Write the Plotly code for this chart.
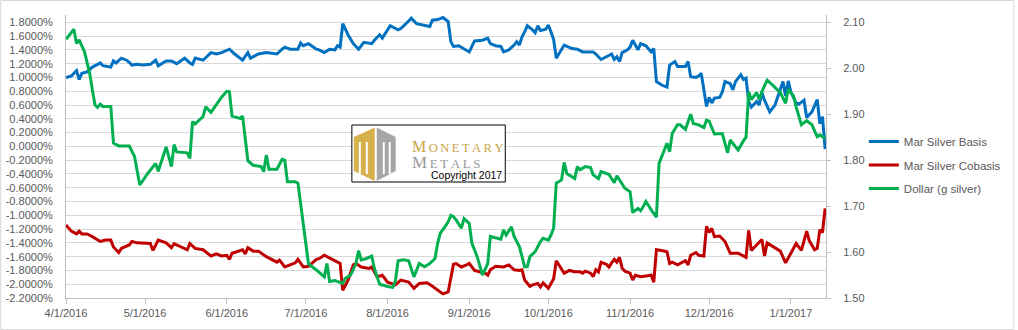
import plotly.graph_objects as go

# ---------------------------------------------------------------- data
BASIS_DATES = [
    "2016-04-01", "2016-04-03", "2016-04-05", "2016-04-06", "2016-04-07", "2016-04-09", "2016-04-11", "2016-04-14", "2016-04-15",
    "2016-04-18", "2016-04-19", "2016-04-20", "2016-04-22", "2016-04-24", "2016-04-25", "2016-04-26", "2016-04-28", "2016-04-30",
    "2016-05-03", "2016-05-05", "2016-05-06", "2016-05-09", "2016-05-11", "2016-05-13", "2016-05-16", "2016-05-18", "2016-05-19",
    "2016-05-20", "2016-05-23", "2016-05-26", "2016-05-28", "2016-05-30",
    "2016-06-02", "2016-06-04", "2016-06-07", "2016-06-09", "2016-06-10", "2016-06-13", "2016-06-16", "2016-06-20", "2016-06-22",
    "2016-06-23", "2016-06-25", "2016-06-28", "2016-06-29", "2016-06-30",
    "2016-07-02", "2016-07-05", "2016-07-06", "2016-07-08", "2016-07-10", "2016-07-12", "2016-07-13", "2016-07-14", "2016-07-15",
    "2016-07-17", "2016-07-19", "2016-07-21", "2016-07-23", "2016-07-26", "2016-07-27", "2016-07-29", "2016-07-30",
    "2016-08-02", "2016-08-05", "2016-08-06", "2016-08-08", "2016-08-10", "2016-08-12", "2016-08-15", "2016-08-17", "2016-08-18",
    "2016-08-20", "2016-08-22", "2016-08-24", "2016-08-25", "2016-08-26", "2016-08-28", "2016-08-30",
    "2016-09-01", "2016-09-03", "2016-09-06", "2016-09-08", "2016-09-09", "2016-09-11", "2016-09-13", "2016-09-14", "2016-09-16",
    "2016-09-18", "2016-09-19", "2016-09-20", "2016-09-21", "2016-09-22", "2016-09-23", "2016-09-25", "2016-09-26", "2016-09-27",
    "2016-09-28", "2016-09-30",
    "2016-10-01", "2016-10-02", "2016-10-03", "2016-10-04", "2016-10-05", "2016-10-07", "2016-10-10", "2016-10-12", "2016-10-14",
    "2016-10-18", "2016-10-19", "2016-10-21", "2016-10-23", "2016-10-25", "2016-10-26", "2016-10-27", "2016-10-28", "2016-10-29",
    "2016-10-31",
    "2016-11-01", "2016-11-02", "2016-11-04", "2016-11-05", "2016-11-07", "2016-11-09", "2016-11-10", "2016-11-11", "2016-11-13",
    "2016-11-15", "2016-11-16", "2016-11-18", "2016-11-19", "2016-11-22", "2016-11-23", "2016-11-24", "2016-11-26", "2016-11-27",
    "2016-11-28", "2016-11-30",
    "2016-12-01", "2016-12-02", "2016-12-03", "2016-12-05", "2016-12-06", "2016-12-07", "2016-12-09", "2016-12-10", "2016-12-11",
    "2016-12-13", "2016-12-14", "2016-12-15", "2016-12-16", "2016-12-17", "2016-12-19", "2016-12-20", "2016-12-21", "2016-12-22",
    "2016-12-24", "2016-12-26", "2016-12-27", "2016-12-29", "2016-12-30", "2016-12-31",
    "2017-01-01", "2017-01-03", "2017-01-04", "2017-01-06", "2017-01-07", "2017-01-09", "2017-01-11", "2017-01-12", "2017-01-13",
    "2017-01-14",
]
BASIS_PCT = [
    1.00, 1.02, 1.10, 0.97, 1.06, 1.08, 1.15, 1.21, 1.17, 1.15, 1.24, 1.21, 1.28, 1.25, 1.22, 1.18, 1.19, 1.18,
    1.19, 1.25, 1.17, 1.24, 1.24, 1.20, 1.28, 1.21, 1.19, 1.28, 1.25, 1.36, 1.34, 1.36,
    1.41, 1.34, 1.25, 1.36, 1.28, 1.34, 1.36, 1.34, 1.41, 1.44, 1.41, 1.41, 1.50, 1.46,
    1.49, 1.41, 1.40, 1.36, 1.41, 1.40, 1.46, 1.44, 1.78, 1.62, 1.49, 1.41, 1.51, 1.49, 1.54, 1.62, 1.57,
    1.75, 1.69, 1.71, 1.78, 1.86, 1.78, 1.76, 1.74, 1.83, 1.84, 1.87, 1.81, 1.52, 1.45, 1.46, 1.42,
    1.37, 1.53, 1.54, 1.57, 1.49, 1.46, 1.45, 1.37, 1.40, 1.47, 1.52, 1.47, 1.59, 1.66, 1.75, 1.69, 1.65, 1.75, 1.68, 1.70,
    1.76, 1.66, 1.55, 1.28, 1.35, 1.47, 1.42, 1.41, 1.37, 1.37, 1.34, 1.26, 1.30, 1.34, 1.26, 1.30, 1.23, 1.36, 1.40,
    1.44, 1.54, 1.40, 1.49, 1.46, 1.37, 1.42, 0.94, 0.89, 0.86, 1.18, 1.23, 1.16, 1.16, 1.23, 1.01, 1.00, 1.02, 1.06, 0.58,
    0.71, 0.63, 0.70, 0.71, 0.79, 0.94, 0.91, 0.82, 0.94, 1.04, 0.97, 0.99, 0.65, 0.57, 0.65, 0.60, 0.78, 0.67, 0.50, 0.60,
    0.71, 0.94, 0.73, 0.95,
    0.79, 0.63, 0.61, 0.67, 0.42, 0.50, 0.68, 0.33, 0.43, -0.04,
]

COBASIS_DATES = [
    "2016-04-01", "2016-04-03", "2016-04-05", "2016-04-06", "2016-04-07", "2016-04-09", "2016-04-11", "2016-04-14", "2016-04-16",
    "2016-04-18", "2016-04-19", "2016-04-21", "2016-04-22", "2016-04-25", "2016-04-26", "2016-04-28",
    "2016-05-03", "2016-05-04", "2016-05-06", "2016-05-09", "2016-05-11", "2016-05-12", "2016-05-17", "2016-05-18", "2016-05-20",
    "2016-05-23", "2016-05-26", "2016-05-28", "2016-05-30",
    "2016-06-01", "2016-06-02", "2016-06-03", "2016-06-07", "2016-06-08", "2016-06-09", "2016-06-11", "2016-06-13", "2016-06-16",
    "2016-06-20", "2016-06-21", "2016-06-23", "2016-06-27", "2016-06-28", "2016-06-30",
    "2016-07-02", "2016-07-05", "2016-07-06", "2016-07-08", "2016-07-11", "2016-07-13", "2016-07-14", "2016-07-15", "2016-07-17",
    "2016-07-19", "2016-07-20", "2016-07-22", "2016-07-25", "2016-07-26", "2016-07-28", "2016-07-30",
    "2016-08-01", "2016-08-04", "2016-08-06", "2016-08-09", "2016-08-11", "2016-08-13", "2016-08-16", "2016-08-18", "2016-08-20",
    "2016-08-22", "2016-08-24", "2016-08-25", "2016-08-26", "2016-08-27", "2016-08-29", "2016-08-31",
    "2016-09-01", "2016-09-03", "2016-09-04", "2016-09-07", "2016-09-08", "2016-09-09", "2016-09-11", "2016-09-14", "2016-09-16",
    "2016-09-18", "2016-09-20", "2016-09-21", "2016-09-22", "2016-09-24", "2016-09-25", "2016-09-27", "2016-09-28", "2016-09-29",
    "2016-10-01", "2016-10-02", "2016-10-03", "2016-10-04", "2016-10-06", "2016-10-07", "2016-10-09", "2016-10-11", "2016-10-13",
    "2016-10-14", "2016-10-15", "2016-10-17", "2016-10-18", "2016-10-19", "2016-10-20", "2016-10-21", "2016-10-23", "2016-10-24",
    "2016-10-25", "2016-10-26", "2016-10-27", "2016-10-28", "2016-10-29", "2016-10-30",
    "2016-11-01", "2016-11-02", "2016-11-03", "2016-11-05", "2016-11-07", "2016-11-09", "2016-11-10", "2016-11-11", "2016-11-13",
    "2016-11-15", "2016-11-16", "2016-11-17", "2016-11-19", "2016-11-20", "2016-11-22", "2016-11-23", "2016-11-24", "2016-11-26",
    "2016-11-27", "2016-11-29", "2016-11-30",
    "2016-12-01", "2016-12-02", "2016-12-03", "2016-12-05", "2016-12-07", "2016-12-09", "2016-12-12", "2016-12-15", "2016-12-16",
    "2016-12-17", "2016-12-21", "2016-12-22", "2016-12-23", "2016-12-26", "2016-12-28", "2016-12-30",
    "2017-01-01", "2017-01-03", "2017-01-05", "2017-01-07", "2017-01-08", "2017-01-10", "2017-01-11", "2017-01-12", "2017-01-13",
    "2017-01-14",
]
COBASIS_PCT = [
    -1.14, -1.23, -1.27, -1.23, -1.27, -1.27, -1.31, -1.38, -1.36, -1.36, -1.46, -1.54, -1.48, -1.43, -1.38, -1.40,
    -1.41, -1.51, -1.36, -1.40, -1.47, -1.41, -1.50, -1.41, -1.48, -1.50, -1.59, -1.56, -1.59,
    -1.58, -1.64, -1.55, -1.50, -1.56, -1.47, -1.52, -1.52, -1.60, -1.68, -1.65, -1.75, -1.69, -1.64, -1.75,
    -1.74, -1.64, -1.63, -1.58, -1.64, -1.68, -1.70, -2.09, -1.94, -1.72, -1.70, -1.75, -1.77, -1.75, -1.89, -1.87,
    -1.97, -2.01, -1.94, -1.97, -2.06, -1.99, -1.98, -2.03, -2.09, -2.14, -2.11, -1.90, -1.71, -1.70, -1.75, -1.72,
    -1.70, -1.80, -1.81, -1.84, -1.87, -1.79, -1.74, -1.75, -1.72, -1.79, -1.80, -1.79, -1.94, -2.03, -2.01, -1.99, -2.04, -1.98,
    -2.06, -1.99, -1.92, -1.66, -1.77, -1.84, -1.80, -1.82, -1.82, -1.84, -1.81, -1.84, -1.89, -1.79, -1.82, -1.68, -1.71, -1.75,
    -1.69, -1.64, -1.68, -1.61, -1.77, -1.81,
    -1.84, -1.94, -1.87, -1.89, -1.88, -1.87, -1.97, -1.50, -1.51, -1.53, -1.70, -1.68, -1.72, -1.70, -1.66, -1.72, -1.58, -1.54,
    -1.58, -1.59, -1.16,
    -1.25, -1.19, -1.31, -1.30, -1.38, -1.55, -1.55, -1.61, -1.22, -1.51, -1.35, -1.59, -1.40, -1.47, -1.52, -1.69,
    -1.55, -1.41, -1.51, -1.23, -1.37, -1.50, -1.48, -1.21, -1.25, -0.90,
]

DOLLAR_DATES = [
    "2016-04-01", "2016-04-04", "2016-04-05", "2016-04-06", "2016-04-08", "2016-04-10", "2016-04-11", "2016-04-12", "2016-04-13",
    "2016-04-14", "2016-04-15", "2016-04-18", "2016-04-19", "2016-04-21", "2016-04-25", "2016-04-27", "2016-04-29",
    "2016-05-02", "2016-05-05", "2016-05-06", "2016-05-09", "2016-05-11", "2016-05-12", "2016-05-13", "2016-05-17", "2016-05-18",
    "2016-05-19", "2016-05-20", "2016-05-23", "2016-05-24", "2016-05-26", "2016-05-28", "2016-05-30",
    "2016-06-01", "2016-06-02", "2016-06-03", "2016-06-06", "2016-06-07", "2016-06-09", "2016-06-11", "2016-06-14", "2016-06-15",
    "2016-06-16", "2016-06-17", "2016-06-20", "2016-06-22", "2016-06-23", "2016-06-24", "2016-06-27", "2016-06-28", "2016-06-30",
    "2016-07-02", "2016-07-05", "2016-07-07", "2016-07-08", "2016-07-09", "2016-07-10", "2016-07-12", "2016-07-15", "2016-07-16",
    "2016-07-18", "2016-07-20", "2016-07-21", "2016-07-22", "2016-07-24", "2016-07-26", "2016-07-27", "2016-07-29", "2016-07-30",
    "2016-08-01", "2016-08-03", "2016-08-04", "2016-08-05", "2016-08-07", "2016-08-09", "2016-08-11", "2016-08-13", "2016-08-15",
    "2016-08-17", "2016-08-19", "2016-08-20", "2016-08-21", "2016-08-23", "2016-08-24", "2016-08-25", "2016-08-26", "2016-08-27",
    "2016-08-29", "2016-08-30",
    "2016-09-01", "2016-09-02", "2016-09-04", "2016-09-06", "2016-09-08", "2016-09-09", "2016-09-12", "2016-09-13", "2016-09-14",
    "2016-09-15", "2016-09-17", "2016-09-18", "2016-09-20", "2016-09-22", "2016-09-23", "2016-09-24", "2016-09-26", "2016-09-28",
    "2016-09-29",
    "2016-10-01", "2016-10-02", "2016-10-03", "2016-10-04", "2016-10-06", "2016-10-07", "2016-10-08", "2016-10-11", "2016-10-12",
    "2016-10-13", "2016-10-15", "2016-10-17", "2016-10-18", "2016-10-20", "2016-10-21", "2016-10-23", "2016-10-24", "2016-10-26",
    "2016-10-27", "2016-10-29", "2016-10-30",
    "2016-11-01", "2016-11-02", "2016-11-04", "2016-11-05", "2016-11-06", "2016-11-07", "2016-11-09", "2016-11-11", "2016-11-12",
    "2016-11-13", "2016-11-15", "2016-11-16", "2016-11-17", "2016-11-19", "2016-11-20", "2016-11-22", "2016-11-24", "2016-11-25",
    "2016-11-27", "2016-11-29", "2016-11-30",
    "2016-12-01", "2016-12-03", "2016-12-06", "2016-12-08", "2016-12-09", "2016-12-12", "2016-12-14", "2016-12-15", "2016-12-16",
    "2016-12-17", "2016-12-19", "2016-12-20", "2016-12-21", "2016-12-23", "2016-12-25", "2016-12-28", "2016-12-30", "2016-12-31",
    "2017-01-02", "2017-01-03", "2017-01-05", "2017-01-07", "2017-01-09", "2017-01-11", "2017-01-12", "2017-01-14",
]
DOLLAR_G = [
    2.063, 2.085, 2.054, 2.062, 2.036, 1.989, 1.953, 1.920, 1.915, 1.922, 1.917, 1.917, 1.837, 1.831, 1.831, 1.808, 1.746,
    1.771, 1.793, 1.776, 1.829, 1.786, 1.834, 1.818, 1.816, 1.804, 1.884, 1.879, 1.895, 1.916, 1.904, 1.920, 1.937,
    1.950, 1.949, 1.896, 1.891, 1.896, 1.799, 1.789, 1.786, 1.775, 1.811, 1.780, 1.780, 1.802, 1.800, 1.753, 1.753, 1.750, 1.662,
    1.574, 1.561, 1.550, 1.546, 1.575, 1.536, 1.538, 1.532, 1.543, 1.550, 1.575, 1.603, 1.583, 1.586, 1.591, 1.564, 1.530, 1.528,
    1.525, 1.523, 1.538, 1.581, 1.583, 1.581, 1.546, 1.575, 1.568, 1.575, 1.586, 1.619, 1.641, 1.657, 1.666, 1.680, 1.677, 1.670,
    1.652, 1.673,
    1.662, 1.619, 1.590, 1.550, 1.575, 1.634, 1.630, 1.628, 1.648, 1.637, 1.655, 1.634, 1.612, 1.568, 1.568, 1.590, 1.601, 1.623,
    1.630,
    1.626, 1.637, 1.652, 1.750, 1.757, 1.795, 1.771, 1.760, 1.786, 1.779, 1.786, 1.784, 1.768, 1.760, 1.775, 1.771, 1.769, 1.751,
    1.766, 1.748, 1.739,
    1.731, 1.686, 1.695, 1.690, 1.699, 1.710, 1.692, 1.676, 1.793, 1.808, 1.837, 1.818, 1.858, 1.877, 1.877, 1.867, 1.900, 1.880,
    1.877, 1.871, 1.887,
    1.885, 1.857, 1.858, 1.816, 1.844, 1.822, 1.842, 1.850, 1.949, 1.932, 1.947, 1.932, 1.949, 1.974, 1.964, 1.947, 1.924, 1.954,
    1.940, 1.916, 1.877, 1.886, 1.877, 1.851, 1.855, 1.847,
]

MONTH_TICKS = ["2016-04-01", "2016-05-01", "2016-06-01", "2016-07-01", "2016-08-01",
               "2016-09-01", "2016-10-01", "2016-11-01", "2016-12-01", "2017-01-01"]
MONTH_LABELS = ["4/1/2016", "5/1/2016", "6/1/2016", "7/1/2016", "8/1/2016",
                "9/1/2016", "10/1/2016", "11/1/2016", "12/1/2016", "1/1/2017"]
PCT_TICKS = [v / 10 for v in range(-22, 19, 2)]
PCT_LABELS = [f"{v:.4f}%" for v in PCT_TICKS]
DOLLAR_TICKS = [1.5, 1.6, 1.7, 1.8, 1.9, 2.0, 2.1]
DOLLAR_LABELS = [f"{v:.2f}" for v in DOLLAR_TICKS]

# ---------------------------------------------------------------- layout helpers
W, H = 1018, 330
PLOT_LEFT, PLOT_RIGHT, PLOT_TOP, PLOT_BOTTOM = 66, 829, 15, 298


def px(x):
    return (x - PLOT_LEFT) / (PLOT_RIGHT - PLOT_LEFT)


def py(y):
    return (PLOT_BOTTOM - y) / (PLOT_BOTTOM - PLOT_TOP)


FONT = "Liberation Sans"
AXIS_TEXT = "#595959"
AXIS_LINE = "#BFBFBF"
THIN = "\u2009"

fig = go.Figure()
fig.add_trace(go.Scatter(x=BASIS_DATES, y=BASIS_PCT, name="Mar Silver Basis", mode="lines",
                         line=dict(color="#0070C0", width=3), legendgroup="a"))
fig.add_trace(go.Scatter(x=COBASIS_DATES, y=COBASIS_PCT, name="Mar Silver Cobasis", mode="lines",
                         line=dict(color="#C00000", width=3), legendgroup="b"))
fig.add_trace(go.Scatter(x=DOLLAR_DATES, y=DOLLAR_G, name="Dollar (g silver)", mode="lines",
                         line=dict(color="#00B050", width=3), yaxis="y2", legendgroup="c"))

# chart frame and logo block
shapes = [
    dict(type="rect", xref="paper", yref="paper", x0=px(0.5), x1=px(W - 0.5), y0=py(H - 0.5), y1=py(0.5),
         line=dict(color="#D9D9D9", width=1), fillcolor="rgba(0,0,0,0)", layer="above"),
    dict(type="rect", xref="paper", yref="paper", x0=px(353), x1=px(507), y0=py(182), y1=py(125),
         line=dict(color="#000000", width=1), fillcolor="#FFFFFF", layer="above"),
    dict(type="path", xref="paper", yref="paper",
         path=f"M {px(376)},{py(127.5)} L {px(355)},{py(137)} L {px(355)},{py(171)} L {px(376)},{py(181)} Z",
         line=dict(width=0), fillcolor="#D6B04A", layer="above"),
    dict(type="path", xref="paper", yref="paper",
         path=f"M {px(378)},{py(127.5)} L {px(397)},{py(137)} L {px(397)},{py(171)} L {px(378)},{py(181)} Z",
         line=dict(width=0), fillcolor="#A6A6A6", layer="above"),
]
for xs in (361, 368, 385, 391):
    shapes.append(dict(type="line", xref="paper", yref="paper", x0=px(xs), x1=px(xs), y0=py(142), y1=py(174),
                       line=dict(color="#FFFFFF", width=2), layer="above"))

annotations = [
    dict(xref="paper", yref="paper", x=px(411), y=py(146), xanchor="left", yanchor="middle", showarrow=False,
         text='<span style="font-size:16px">M</span>' + THIN + THIN.join("ONETARY"),
         font=dict(family="Liberation Serif", size=12.5, color="#C9A646")),
    dict(xref="paper", yref="paper", x=px(411), y=py(162), xanchor="left", yanchor="middle", showarrow=False,
         text='<span style="font-size:17px">M</span>' + THIN + THIN.join("ETALS"),
         font=dict(family="Liberation Serif", size=13, color="#9A9A9A")),
    dict(xref="paper", yref="paper", x=px(430), y=py(175), xanchor="left", yanchor="middle", showarrow=False,
         text="Copyright 2017", font=dict(family=FONT, size=10.5, color="#000000")),
]

fig.update_layout(
    width=W, height=H,
    margin=dict(l=PLOT_LEFT, r=W - PLOT_RIGHT, t=PLOT_TOP, b=H - PLOT_BOTTOM, pad=0),
    paper_bgcolor="#FFFFFF", plot_bgcolor="#FFFFFF",
    font=dict(family=FONT, size=11, color=AXIS_TEXT),
    xaxis=dict(type="date", range=["2016-04-01", "2017-01-14 08:00"], automargin=False,
               tickmode="array", tickvals=MONTH_TICKS, ticktext=MONTH_LABELS,
               ticks="outside", ticklen=5, tickcolor=AXIS_LINE, showgrid=False,
               showline=True, linecolor=AXIS_LINE, linewidth=1, zeroline=False,
               tickfont=dict(size=11, color=AXIS_TEXT)),
    yaxis=dict(range=[-2.2, 1.906], tickmode="array", tickvals=PCT_TICKS, ticktext=PCT_LABELS,
               automargin=False, showgrid=True, gridcolor="#D9D9D9", gridwidth=1, zeroline=False,
               showline=True, linecolor=AXIS_LINE, linewidth=1, ticks="",
               ticklabelstandoff=10, tickfont=dict(size=11, color=AXIS_TEXT)),
    yaxis2=dict(overlaying="y", side="right", range=[1.50, 2.116], tickmode="array", automargin=False,
                tickvals=DOLLAR_TICKS, ticktext=DOLLAR_LABELS, showgrid=False, zeroline=False,
                showline=True, linecolor=AXIS_LINE, linewidth=1, ticks="outside", ticklen=4,
                tickcolor=AXIS_LINE, ticklabelstandoff=10, tickfont=dict(size=11, color=AXIS_TEXT)),
    legend=dict(x=px(867), y=py(127), xanchor="left", yanchor="top", tracegroupgap=4.5,
                font=dict(family=FONT, size=11.5, color=AXIS_TEXT), bgcolor="rgba(0,0,0,0)"),
    shapes=shapes,
    annotations=annotations,
    showlegend=True,
)

fig.write_html("out.html")
